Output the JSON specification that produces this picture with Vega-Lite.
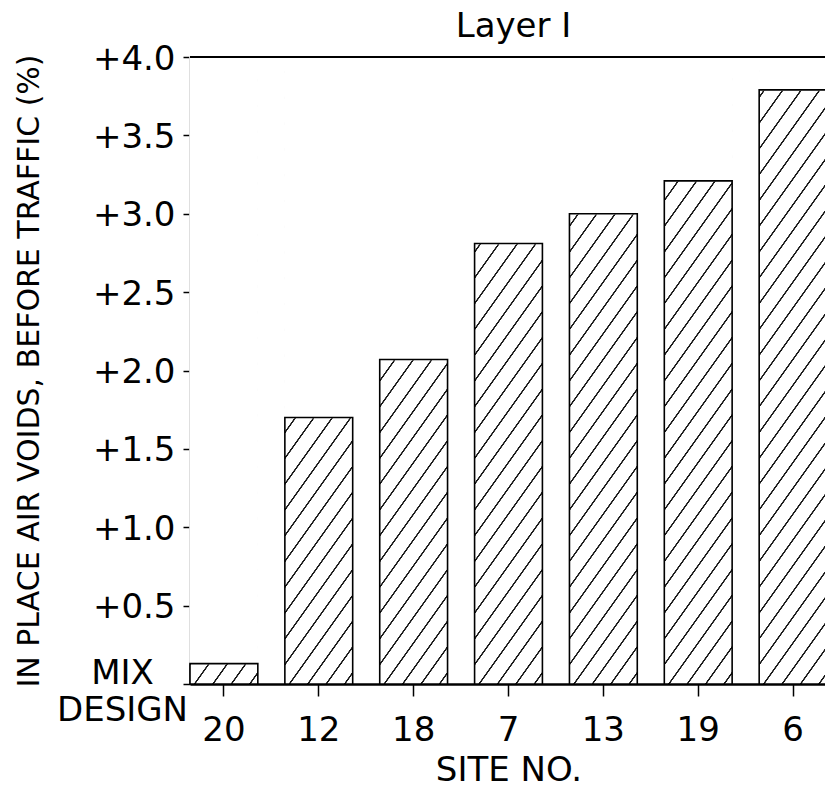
{
  "$schema": "https://vega.github.io/schema/vega-lite/v6.json",
  "width": 635,
  "height": 627,
  "autosize": {"type": "none"},
  "padding": {"left": 190, "top": 57, "right": 0, "bottom": 105},
  "background": "white",
  "config": {
    "font": "DejaVu Sans",
    "view": {"stroke": null},
    "axis": {"zindex": 1, "grid": false, "domainColor": "black", "tickColor": "black", "labelColor": "black", "titleColor": "black", "labelOverlap": false, "labelBound": false, "labelFlush": false}
  },
  "title": {
    "text": "Layer I",
    "fontSize": 34,
    "fontWeight": "normal",
    "color": "black",
    "frame": "group",
    "baseline": "alphabetic",
    "offset": -29,
    "dx": 6
  },
  "data": {
    "values": [
      {"site": "20", "voids": 0.13},
      {"site": "12", "voids": 1.70},
      {"site": "18", "voids": 2.07},
      {"site": "7", "voids": 2.81},
      {"site": "13", "voids": 3.00},
      {"site": "19", "voids": 3.21},
      {"site": "6", "voids": 3.79}
    ]
  },
  "layer": [
    {
      "encoding": {
        "x": {
          "field": "site",
          "type": "nominal",
          "sort": null,
          "scale": {"range": [0, 637], "paddingInner": 0.285, "paddingOuter": 0},
          "axis": {
            "title": "SITE NO.",
            "titleFontSize": 34,
            "titleFontWeight": "normal",
            "titlePadding": 6,
            "labelFontSize": 34,
            "labelAngle": 0,
            "labelPadding": 17,
            "tickSize": 12,
            "tickWidth": 1.5,
            "domainWidth": 2.5
          }
        }
      },
      "layer": [
        {
          "mark": {
            "type": "bar",
            "fill": {
              "gradient": "linear",
              "x1": 0, "y1": 0, "x2": 0.1704, "y2": 1.1256,
              "stops": [
                {"offset": 0.0179, "color": "#ffffff"}, {"offset": 0.0189, "color": "#1a1a1a"}, {"offset": 0.0214, "color": "#1a1a1a"}, {"offset": 0.0224, "color": "#ffffff"},
                {"offset": 0.0536, "color": "#ffffff"}, {"offset": 0.0546, "color": "#1a1a1a"}, {"offset": 0.0571, "color": "#1a1a1a"}, {"offset": 0.0581, "color": "#ffffff"},
                {"offset": 0.0893, "color": "#ffffff"}, {"offset": 0.0903, "color": "#1a1a1a"}, {"offset": 0.0928, "color": "#1a1a1a"}, {"offset": 0.0938, "color": "#ffffff"},
                {"offset": 0.1250, "color": "#ffffff"}, {"offset": 0.1260, "color": "#1a1a1a"}, {"offset": 0.1285, "color": "#1a1a1a"}, {"offset": 0.1295, "color": "#ffffff"},
                {"offset": 0.1607, "color": "#ffffff"}, {"offset": 0.1617, "color": "#1a1a1a"}, {"offset": 0.1642, "color": "#1a1a1a"}, {"offset": 0.1652, "color": "#ffffff"},
                {"offset": 0.1964, "color": "#ffffff"}, {"offset": 0.1974, "color": "#1a1a1a"}, {"offset": 0.1999, "color": "#1a1a1a"}, {"offset": 0.2009, "color": "#ffffff"},
                {"offset": 0.2321, "color": "#ffffff"}, {"offset": 0.2331, "color": "#1a1a1a"}, {"offset": 0.2356, "color": "#1a1a1a"}, {"offset": 0.2366, "color": "#ffffff"},
                {"offset": 0.2679, "color": "#ffffff"}, {"offset": 0.2689, "color": "#1a1a1a"}, {"offset": 0.2714, "color": "#1a1a1a"}, {"offset": 0.2724, "color": "#ffffff"},
                {"offset": 0.3036, "color": "#ffffff"}, {"offset": 0.3046, "color": "#1a1a1a"}, {"offset": 0.3071, "color": "#1a1a1a"}, {"offset": 0.3081, "color": "#ffffff"},
                {"offset": 0.3393, "color": "#ffffff"}, {"offset": 0.3403, "color": "#1a1a1a"}, {"offset": 0.3428, "color": "#1a1a1a"}, {"offset": 0.3438, "color": "#ffffff"},
                {"offset": 0.3750, "color": "#ffffff"}, {"offset": 0.3760, "color": "#1a1a1a"}, {"offset": 0.3785, "color": "#1a1a1a"}, {"offset": 0.3795, "color": "#ffffff"},
                {"offset": 0.4107, "color": "#ffffff"}, {"offset": 0.4117, "color": "#1a1a1a"}, {"offset": 0.4142, "color": "#1a1a1a"}, {"offset": 0.4152, "color": "#ffffff"},
                {"offset": 0.4464, "color": "#ffffff"}, {"offset": 0.4474, "color": "#1a1a1a"}, {"offset": 0.4499, "color": "#1a1a1a"}, {"offset": 0.4509, "color": "#ffffff"},
                {"offset": 0.4821, "color": "#ffffff"}, {"offset": 0.4831, "color": "#1a1a1a"}, {"offset": 0.4856, "color": "#1a1a1a"}, {"offset": 0.4866, "color": "#ffffff"},
                {"offset": 0.5179, "color": "#ffffff"}, {"offset": 0.5189, "color": "#1a1a1a"}, {"offset": 0.5214, "color": "#1a1a1a"}, {"offset": 0.5224, "color": "#ffffff"},
                {"offset": 0.5536, "color": "#ffffff"}, {"offset": 0.5546, "color": "#1a1a1a"}, {"offset": 0.5571, "color": "#1a1a1a"}, {"offset": 0.5581, "color": "#ffffff"},
                {"offset": 0.5893, "color": "#ffffff"}, {"offset": 0.5903, "color": "#1a1a1a"}, {"offset": 0.5928, "color": "#1a1a1a"}, {"offset": 0.5938, "color": "#ffffff"},
                {"offset": 0.6250, "color": "#ffffff"}, {"offset": 0.6260, "color": "#1a1a1a"}, {"offset": 0.6285, "color": "#1a1a1a"}, {"offset": 0.6295, "color": "#ffffff"},
                {"offset": 0.6607, "color": "#ffffff"}, {"offset": 0.6617, "color": "#1a1a1a"}, {"offset": 0.6642, "color": "#1a1a1a"}, {"offset": 0.6652, "color": "#ffffff"},
                {"offset": 0.6964, "color": "#ffffff"}, {"offset": 0.6974, "color": "#1a1a1a"}, {"offset": 0.6999, "color": "#1a1a1a"}, {"offset": 0.7009, "color": "#ffffff"},
                {"offset": 0.7321, "color": "#ffffff"}, {"offset": 0.7331, "color": "#1a1a1a"}, {"offset": 0.7356, "color": "#1a1a1a"}, {"offset": 0.7366, "color": "#ffffff"},
                {"offset": 0.7679, "color": "#ffffff"}, {"offset": 0.7689, "color": "#1a1a1a"}, {"offset": 0.7714, "color": "#1a1a1a"}, {"offset": 0.7724, "color": "#ffffff"},
                {"offset": 0.8036, "color": "#ffffff"}, {"offset": 0.8046, "color": "#1a1a1a"}, {"offset": 0.8071, "color": "#1a1a1a"}, {"offset": 0.8081, "color": "#ffffff"},
                {"offset": 0.8393, "color": "#ffffff"}, {"offset": 0.8403, "color": "#1a1a1a"}, {"offset": 0.8428, "color": "#1a1a1a"}, {"offset": 0.8438, "color": "#ffffff"},
                {"offset": 0.8750, "color": "#ffffff"}, {"offset": 0.8760, "color": "#1a1a1a"}, {"offset": 0.8785, "color": "#1a1a1a"}, {"offset": 0.8795, "color": "#ffffff"},
                {"offset": 0.9107, "color": "#ffffff"}, {"offset": 0.9117, "color": "#1a1a1a"}, {"offset": 0.9142, "color": "#1a1a1a"}, {"offset": 0.9152, "color": "#ffffff"},
                {"offset": 0.9464, "color": "#ffffff"}, {"offset": 0.9474, "color": "#1a1a1a"}, {"offset": 0.9499, "color": "#1a1a1a"}, {"offset": 0.9509, "color": "#ffffff"},
                {"offset": 0.9821, "color": "#ffffff"}, {"offset": 0.9831, "color": "#1a1a1a"}, {"offset": 0.9856, "color": "#1a1a1a"}, {"offset": 0.9866, "color": "#ffffff"}
              ]
            }
          },
          "encoding": {
            "y": {
              "datum": 0,
              "type": "quantitative",
              "scale": {"domain": [0, 4], "nice": false, "zero": true},
              "axis": {
                "title": "IN PLACE AIR VOIDS, BEFORE TRAFFIC (%)",
                "titleFontSize": 30,
                "titleFontWeight": "normal",
                "titlePadding": 12,
                "values": [0, 0.5, 1, 1.5, 2, 2.5, 3, 3.5, 4],
                "labelExpr": "datum.value === 0 ? ['MIX', 'DESIGN'] : '+' + format(datum.value, '.1f')",
                "labelFontSize": 34,
                "labelLineHeight": 37,
                "labelAlign": {"condition": {"test": "datum.value === 0", "value": "center"}, "value": "right"},
                "labelPadding": {"condition": {"test": "datum.value === 0", "value": 61}, "value": 8},
                "labelOffset": {"condition": {"test": "datum.value === 0", "value": -11}, "value": 2},
                "labelBaseline": "middle",
                "tickSize": 7,
                "tickWidth": 1.5,
                "domainWidth": 2
              }
            },
            "y2": {"datum": 4}
          }
        },
        {
          "mark": {"type": "bar", "fill": "white", "stroke": "white", "strokeWidth": 1.5},
          "encoding": {
            "y": {"field": "voids", "type": "quantitative"},
            "y2": {"datum": 4}
          }
        },
        {
          "mark": {"type": "bar", "filled": false, "color": "black", "strokeWidth": 1.6},
          "encoding": {
            "y": {"field": "voids", "type": "quantitative"}
          }
        }
      ]
    },
    {
      "mark": {"type": "rule", "color": "black", "strokeWidth": 2},
      "encoding": {
        "y": {"datum": 4, "type": "quantitative"}
      }
    }
  ]
}
